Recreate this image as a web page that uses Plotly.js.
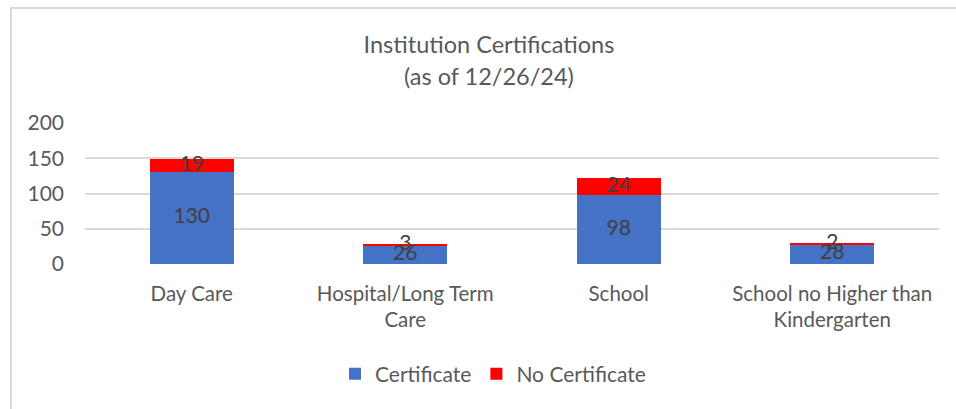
<!DOCTYPE html>
<html>
<head>
<meta charset="utf-8">
<script src="https://cdn.plot.ly/plotly-3.0.1.min.js"></script>
<style>
  html, body { margin: 0; padding: 0; background: #ffffff; }
  #wrap { position: relative; width: 956px; height: 409px; overflow: hidden; }
  #frame { position: absolute; left: 10px; top: 7px; width: 960px; height: 420px;
           border-left: 2px solid #d9d9d9; border-top: 2px solid #d9d9d9; box-sizing: border-box; }
  #chart { position: absolute; left: 0; top: 0; width: 956px; height: 409px; }
</style>
</head>
<body>
<div id="wrap">
  <div id="frame"></div>
  <div id="chart"></div>
</div>
<script>
const categories = ["Day Care", "Hospital/Long Term<br>Care", "School", "School no Higher than<br>Kindergarten"];
const certificate = [130, 26, 98, 28];
const noCertificate = [19, 3, 24, 2];
const yTicks = [0, 50, 100, 150, 200];

const fontFam = "Lato, 'Open Sans', sans-serif";
const blue = "#4472C4";
const red = "#FF0000";

// midpoints of each stacked segment for the data labels
const certMid = certificate.map(v => v / 2);
const noCertMid = certificate.map((v, i) => v + noCertificate[i] / 2);

const traces = [
  {
    type: "bar", name: "Certificate", x: categories, y: certificate,
    marker: { color: blue, line: { width: 0 } }, hoverinfo: "x+y"
  },
  {
    type: "bar", name: "No Certificate", x: categories, y: noCertificate,
    marker: { color: red, line: { width: 0 } }, hoverinfo: "x+y"
  },
  {
    type: "scatter", mode: "text", x: categories, y: certMid,
    text: certificate.map(String), textposition: "middle center",
    textfont: { family: fontFam, size: 21, color: "#404040" },
    showlegend: false, hoverinfo: "skip", cliponaxis: false
  },
  {
    type: "scatter", mode: "text", x: categories, y: noCertMid,
    text: noCertificate.map(String), textposition: "middle center",
    textfont: { family: fontFam, size: 21, color: "#404040" },
    showlegend: false, hoverinfo: "skip", cliponaxis: false
  }
];

const titleX = (489 - 85) / 854;

const layout = {
  width: 956, height: 409,
  margin: { l: 85, r: 17, t: 123, b: 145 },
  paper_bgcolor: "rgba(0,0,0,0)",
  plot_bgcolor: "rgba(0,0,0,0)",
  barmode: "stack",
  bargap: 0.607,
  font: { family: fontFam, size: 21, color: "#595959" },
  title: {
    text: "Institution Certifications",
    font: { family: fontFam, size: 23.5, color: "#595959" },
    x: titleX, xanchor: "center", xref: "paper",
    y: 1 - 45 / 409, yanchor: "middle", yref: "container"
  },
  annotations: [
    {
      text: "(as of 12/26/24)", showarrow: false,
      xref: "paper", x: titleX, xanchor: "center",
      yref: "paper", y: 1 + (123 - 76) / 141, yanchor: "middle",
      font: { family: fontFam, size: 23.5, color: "#595959" }
    }
  ],
  xaxis: {
    type: "category",
    showgrid: false, zeroline: false, showline: false,
    ticks: "", tickfont: { family: fontFam, size: 20.5, color: "#595959" },
    ticklabelstandoff: 15,
    fixedrange: true
  },
  yaxis: {
    range: [0, 200],
    tickvals: yTicks,
    ticktext: yTicks.map(String),
    showgrid: true, gridcolor: "#d9d9d9", gridwidth: 2,
    zeroline: false, showline: false, ticks: "",
    tickfont: { family: fontFam, size: 21, color: "#595959" },
    ticklabelstandoff: 20,
    fixedrange: true
  },
  legend: {
    orientation: "h",
    x: (493 - 85) / 854, xanchor: "center",
    y: -(374 - 264) / 141, yanchor: "middle",
    font: { family: fontFam, size: 21, color: "#595959" },
    traceorder: "normal"
  },
  showlegend: true
};

Plotly.newPlot("chart", traces, layout, { displayModeBar: false, responsive: false });
</script>
</body>
</html>
